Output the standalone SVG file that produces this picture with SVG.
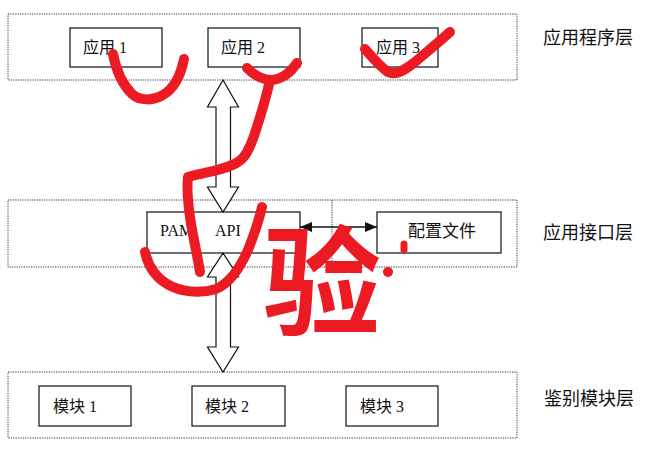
<svg xmlns="http://www.w3.org/2000/svg" width="660" height="456" viewBox="0 0 660 456">
<style>
.layer{fill:none;stroke:#333;stroke-width:1;stroke-dasharray:1.2,1.2}
.box{fill:#fff;stroke:#111;stroke-width:1.2}
.t{font-family:"Liberation Serif","Noto Sans CJK SC",serif;font-size:16px;fill:#111}
.lbl{font-family:"Noto Sans CJK SC","Liberation Sans",sans-serif;font-size:18px;fill:#111}
.harrow{fill:#fff;stroke:#111;stroke-width:1.2;stroke-linejoin:miter}
.conn{stroke:#111;stroke-width:1.3;fill:none}
.ink{fill:none;stroke:#ec1a22;stroke-width:10;stroke-linecap:round;stroke-linejoin:round}
</style>
<defs>
<marker id="ah" viewBox="0 0 12 10" refX="12" refY="5" markerWidth="12" markerHeight="10" markerUnits="userSpaceOnUse" orient="auto-start-reverse">
<path d="M0,0 L12,5 L0,10 z" fill="#111"/>
</marker>
</defs>
<rect width="660" height="456" fill="#fff"/>

<g id="layer-app">
<rect class="layer" x="8" y="14" width="509" height="66"/>
<text class="lbl" x="543" y="44">应用程序层</text>
</g>
<g id="layer-api">
<rect class="layer" x="8" y="200" width="509" height="67"/>
<line class="layer" x1="332" y1="200" x2="332" y2="267"/>
<text class="lbl" x="543" y="239">应用接口层</text>
</g>
<g id="layer-auth">
<rect class="layer" x="8" y="372" width="509" height="66"/>
<text class="lbl" x="544" y="405">鉴别模块层</text>
</g>

<g id="app1"><rect class="box" x="70" y="28" width="92" height="39"/><text class="t" x="83" y="53">应用 1</text></g>
<g id="app2"><rect class="box" x="208" y="28" width="92" height="39"/><text class="t" x="221" y="53">应用 2</text></g>
<g id="app3"><rect class="box" x="362" y="28" width="76" height="39"/><text class="t" x="376" y="53">应用 3</text></g>

<g id="pam"><rect class="box" x="147" y="212" width="153" height="41"/><text class="t" x="160" y="236">PAM<tspan x="215">API</tspan></text></g>
<g id="config"><rect class="box" x="377" y="212" width="124" height="41"/><text class="t" x="408" y="237" style="font-size:17px">配置文件</text></g>

<g id="mod1"><rect class="box" x="39" y="386" width="92" height="40"/><text class="t" x="53" y="412">模块 1</text></g>
<g id="mod2"><rect class="box" x="192" y="386" width="93" height="40"/><text class="t" x="205" y="412">模块 2</text></g>
<g id="mod3"><rect class="box" x="346" y="386" width="92" height="40"/><text class="t" x="360" y="412">模块 3</text></g>

<g id="connectors">
<polygon class="harrow" points="223,80 238.5,107 230.5,107 230.5,187 238.5,187 223,212 207.5,187 216,187 216,107 207.5,107"/>
<polygon class="harrow" points="223,253 238.5,277 230.5,277 230.5,347 238.5,347 223,372 207.5,347 216,347 216,277 207.5,277"/>
<line class="conn" x1="300" y1="227" x2="377" y2="227" marker-start="url(#ah)" marker-end="url(#ah)"/>
</g>

<g id="annotations">
<path class="ink" d="M113,54 C116,70 122,84 132,94 C140,101 152,101 163,95 C175,88 181,74 184,59"/>
<path class="ink" d="M247,68 C255,76 264,80 272,80 C282,79 291,72 297,63"/>
<path class="ink" d="M270,80 C266,98 260,118 254,136 C249,150 245,158 238,162 C226,170 206,172 188,177 C186,195 190,220 194,240 C197,255 199,265 200,272"/>
<path class="ink" d="M145,252 C148,265 155,277 167,284 C180,292 200,294 216,289 C230,283 240,268 248,250 C254,235 259,220 262,207"/>
<path class="ink" d="M365,49 C372,57 379,66 388,72 C396,76 405,70 415,62 C428,51 440,41 450,32"/>
<circle cx="388" cy="272" r="5" fill="#ec1a22"/>
<path class="ink" d="M404,244 L404,250" style="stroke-width:7"/>
<text x="322" y="326" text-anchor="middle" style="font-family:'Noto Sans CJK SC',sans-serif;font-size:118px;font-weight:700;fill:#ec1a22">验</text>
</g>
</svg>
